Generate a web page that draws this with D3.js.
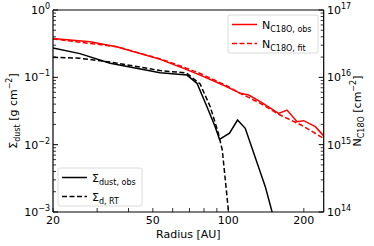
<!DOCTYPE html>
<html><head><meta charset="utf-8">
<script src="https://cdn.jsdelivr.net/npm/d3@7"></script>
<style>html,body{margin:0;padding:0;background:#fff;}svg{display:block;font-family:"DejaVu Sans",sans-serif;}</style>
</head><body><svg id="c" width="374" height="246"></svg>
<script>
// ---- data ----
const radiusObs = [20, 25.6, 33.8, 53.5, 68.4, 75, 82.2, 88.6, 92.2, 101.1, 108.8, 116.8, 140.4, 150];
const sigmaObs  = [0.273, 0.225, 0.162, 0.117, 0.108, 0.0815, 0.0366, 0.0185, 0.0120, 0.0148, 0.0232, 0.0175, 0.00238, 0.00095];
const radiusRT  = [20, 25.6, 33.8, 53.5, 68.1, 77.2, 84.7, 91.2, 94.6, 100.2];
const sigmaRT   = [0.198, 0.192, 0.169, 0.126, 0.116, 0.0796, 0.0366, 0.0149, 0.0083, 0.001];
const radiusN   = [20, 28.1, 35.9, 53.5, 66.3, 77.2, 97.2, 111.6, 120.5, 134.1, 158.6, 171.4, 187.9, 199.6, 222.3, 240];
const nObs      = [3.77e16, 3.38e16, 2.85e16, 1.85e16, 1.36e16, 1.08e16, 7.43e15, 5.79e15, 5.47e15, 4.35e15, 2.92e15, 3.27e15, 2.19e15, 2.27e15, 1.85e15, 1.35e15];
const radiusFit = [20, 35.9, 53.5, 66.3, 77.2, 97.2, 111.6, 134.1, 158.6, 195, 240];
const nFit      = [3.72e16, 2.85e16, 1.88e16, 1.42e16, 1.14e16, 7.7e15, 5.79e15, 4.11e15, 2.83e15, 1.96e15, 1.24e15];
const xTickLabels = [20, 50, 100, 200];
const xMinorTicks = [30, 40, 60, 70, 80, 90];
const leftExp = [0, -1, -2, -3];
const rightExp = [17, 16, 15, 14];

// ---- layout ----
const L = 53, R = 323.7, T = 10, B = 212;
const svg = d3.select("#c");
const x = d3.scaleLog().domain([20, 240]).range([L, R]);
const yL = d3.scaleLog().domain([1e-3, 1]).range([B, T]);
const yR = d3.scaleLog().domain([1e14, 1e17]).range([B, T]);

svg.append("clipPath").attr("id", "clip").append("rect").attr("x", L).attr("y", T).attr("width", R - L).attr("height", B - T);
const g = svg.append("g").attr("clip-path", "url(#clip)");

const lineL = d3.line().x(d => x(d[0])).y(d => yL(d[1]));
const lineR = d3.line().x(d => x(d[0])).y(d => yR(d[1]));

g.append("path").datum(d3.zip(radiusN, nObs)).attr("d", lineR).attr("fill", "none").attr("stroke", "#ff0000").attr("stroke-width", 1.5);
g.append("path").datum(d3.zip(radiusFit, nFit)).attr("d", lineR).attr("fill", "none").attr("stroke", "#ff0000").attr("stroke-width", 1.5).attr("stroke-dasharray", "5,2.5");
g.append("path").datum(d3.zip(radiusObs, sigmaObs)).attr("d", lineL).attr("fill", "none").attr("stroke", "#000").attr("stroke-width", 1.5);
g.append("path").datum(d3.zip(radiusRT, sigmaRT)).attr("d", lineL).attr("fill", "none").attr("stroke", "#000").attr("stroke-width", 1.5).attr("stroke-dasharray", "5,2.5");

// ---- spines ----
svg.append("line").attr("x1", L).attr("x2", R).attr("y1", T).attr("y2", T).attr("stroke", "#000").attr("stroke-width", 1);
svg.append("line").attr("x1", L).attr("x2", R).attr("y1", B).attr("y2", B).attr("stroke", "#000").attr("stroke-width", 1.2);
svg.append("line").attr("x1", L).attr("x2", L).attr("y1", T).attr("y2", B).attr("stroke", "#000").attr("stroke-width", 1.2);
svg.append("line").attr("x1", R).attr("x2", R).attr("y1", T).attr("y2", B).attr("stroke", "#000").attr("stroke-width", 1.2);

// ---- y ticks ----
function yTicks(scale, lo, hi, xpos, dir) {
  for (let e = lo; e <= hi; e++) {
    for (let m = 1; m <= 9; m++) {
      const v = m * Math.pow(10, e);
      if (v > scale.domain()[1] * 1.0001) continue;
      const yy = scale(v);
      const len = m === 1 ? 5 : 3;
      svg.append("line").attr("x1", xpos).attr("x2", xpos + dir * len).attr("y1", yy).attr("y2", yy).attr("stroke", "#000").attr("stroke-width", m === 1 ? 1 : 0.8);
    }
  }
}
yTicks(yL, -3, 0, L, 1);
yTicks(yR, 14, 17, R, -1);

function powLabel(xp, yp, exp, anchor) {
  const t = svg.append("text").attr("x", xp).attr("y", yp).attr("font-size", 11).attr("text-anchor", anchor).attr("fill", "#000");
  t.append("tspan").text("10");
  t.append("tspan").attr("font-size", 8).attr("dy", -5).text(String(exp).replace("-", "\u2212"));
}
leftExp.forEach(e => powLabel(50, yL(Math.pow(10, e)) + 4, e, "end"));
rightExp.forEach(e => powLabel(327, yR(Math.pow(10, e)) + 4, e, "start"));

// ---- x ticks ----
xTickLabels.concat(xMinorTicks).forEach(v => {
  svg.append("line").attr("x1", x(v)).attr("x2", x(v)).attr("y1", B).attr("y2", B - 4).attr("stroke", "#000").attr("stroke-width", 0.8);
});
xTickLabels.forEach(v => {
  svg.append("text").attr("x", x(v)).attr("y", B + 12).attr("font-size", 11).attr("text-anchor", "middle").text(v);
});
svg.append("text").attr("x", (L + R) / 2).attr("y", 238).attr("font-size", 11).attr("text-anchor", "middle").text("Radius [AU]");

// ---- axis titles ----
const yt = svg.append("text").attr("transform", `translate(17,${(T + B) / 2}) rotate(-90)`).attr("font-size", 11).attr("text-anchor", "middle");
yt.append("tspan").text("\u03A3");
yt.append("tspan").attr("font-size", 8).attr("dy", 3).text("dust");
yt.append("tspan").attr("dy", -3).text(" [g cm");
yt.append("tspan").attr("font-size", 8).attr("dy", -5).text("\u22122");
yt.append("tspan").attr("dy", 5).text("]");

const rt = svg.append("text").attr("transform", `translate(361,${(T + B) / 2}) rotate(-90)`).attr("font-size", 11).attr("text-anchor", "middle");
rt.append("tspan").text("N");
rt.append("tspan").attr("font-size", 8).attr("dy", 3).text("C18O");
rt.append("tspan").attr("dy", -3).text(" [cm");
rt.append("tspan").attr("font-size", 8).attr("dy", -5).text("\u22122");
rt.append("tspan").attr("dy", 5).text("]");

// ---- legends ----
function legend(bx, by, bw, bh, items) {
  svg.append("rect").attr("x", bx).attr("y", by).attr("width", bw).attr("height", bh).attr("rx", 2).attr("fill", "#fff").attr("fill-opacity", 0.8).attr("stroke", "#d0d0d0").attr("stroke-width", 0.8);
  items.forEach((it, i) => {
    const yy = by + 9.5 + i * 19;
    svg.append("line").attr("x1", bx + 4).attr("x2", bx + 29).attr("y1", yy).attr("y2", yy).attr("stroke", it.color).attr("stroke-width", 1.5).attr("stroke-dasharray", it.dash ? "5,2.5" : null);
    const t = svg.append("text").attr("x", bx + 34).attr("y", yy + 4).attr("font-size", 11).attr("fill", "#000");
    t.append("tspan").text(it.main);
    t.append("tspan").attr("font-size", 8).attr("dy", 3).text(it.sub);
  });
}
legend(228, 15, 90, 38, [
  {color: "#ff0000", dash: false, main: "N", sub: "C18O, obs"},
  {color: "#ff0000", dash: true, main: "N", sub: "C18O, fit"}
]);
legend(58, 168, 84, 38, [
  {color: "#000", dash: false, main: "\u03A3", sub: "dust, obs"},
  {color: "#000", dash: true, main: "\u03A3", sub: "d, RT"}
]);
</script></body></html>
